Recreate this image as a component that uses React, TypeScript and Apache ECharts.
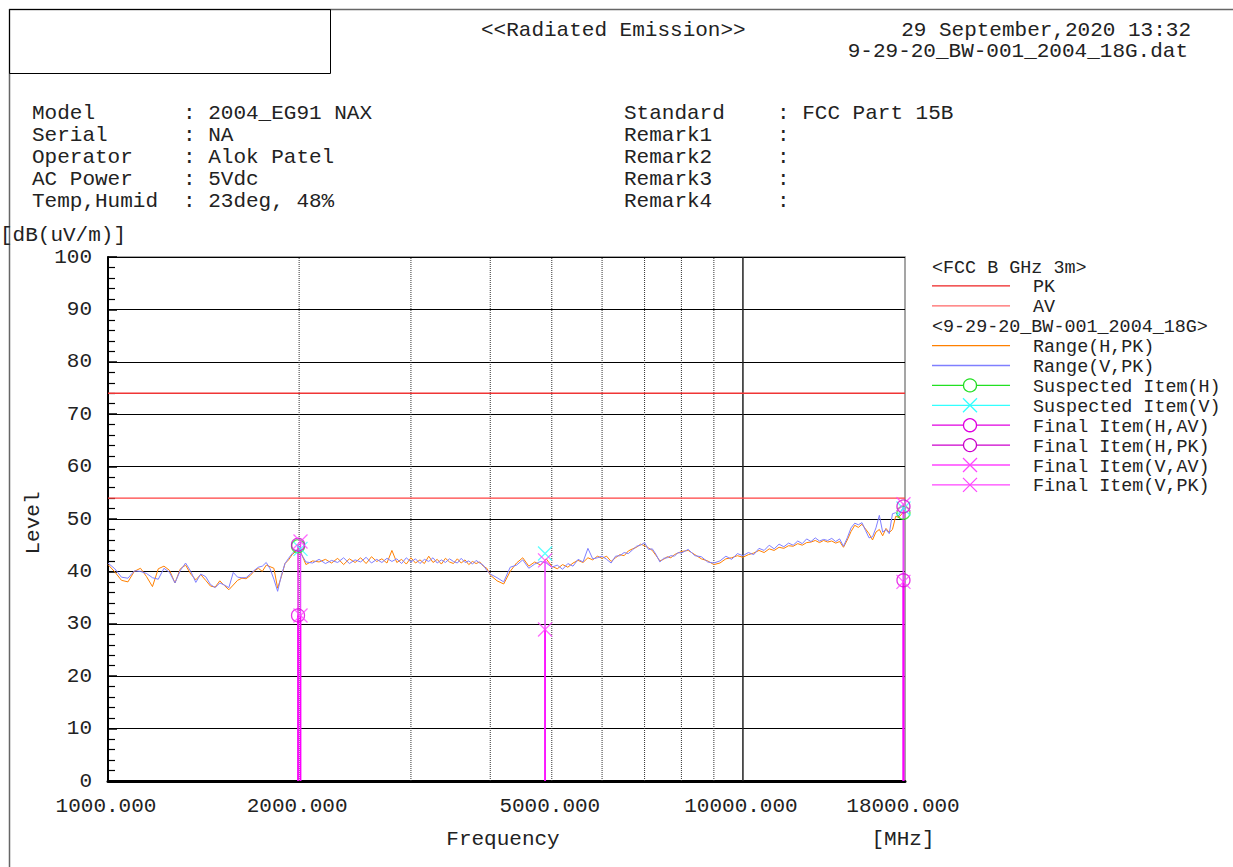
import React, { useEffect, useRef } from "react";
import * as echarts from "echarts";

const FONT = '"Liberation Mono", "Courier New", monospace';
const TEXT = "#222";

// ---- measurement data (MHz / dB(uV/m)) ----
const freqMHz = [
  1000, 1025, 1050, 1075, 1100, 1125, 1150, 1175, 1200, 1225, 1250, 1275, 1300, 1325, 1350, 1375, 1400, 1425, 1450, 1475,
  1500, 1525, 1550, 1575, 1600, 1625, 1650, 1675, 1700, 1725, 1750, 1775, 1800, 1825, 1850, 1875, 1900, 1925, 1950, 1975, 2000,
  2050, 2100, 2150, 2200, 2250, 2300, 2350, 2400, 2450, 2500, 2550, 2600, 2650, 2700, 2750, 2800, 2850, 2900, 2950, 3000,
  3050, 3100, 3150, 3200, 3250, 3300, 3350, 3400, 3450, 3500, 3550, 3600, 3650, 3700, 3750, 3800, 3850, 3900, 3950, 4000,
  4100, 4200, 4300, 4400, 4500, 4600, 4700, 4800, 4900, 5000, 5100, 5200, 5300, 5400, 5500, 5600, 5700, 5800, 5900, 6000,
  6100, 6200, 6300, 6400, 6500, 6600, 6700, 6800, 6900, 7000, 7100, 7200, 7300, 7400, 7500, 7600, 7700, 7800, 7900, 8000,
  8200, 8400, 8600, 8800, 9000, 9200, 9400, 9600, 9800, 10000, 10200, 10400, 10600, 10800, 11000, 11200, 11400, 11600, 11800, 12000,
  12200, 12400, 12600, 12800, 13000, 13200, 13400, 13600, 13800, 14000, 14200, 14400, 14600, 14800, 15000, 15200, 15400, 15600, 15800, 16000,
  16200, 16400, 16600, 16800, 17000, 17200, 17400, 17600, 17800, 18000,
];

const rangeH = [
  41.3, 39.9, 38.3, 38.0, 40.0, 40.6, 39.0, 37.1, 40.5, 41.0, 40.2, 37.8, 40.5, 41.2, 39.5, 38.4, 39.4, 38.3, 37.2, 37.0,
  38.2, 37.3, 36.5, 37.4, 38.3, 38.7, 38.6, 39.2, 40.1, 40.6, 40.0, 41.2, 40.9, 40.6, 36.8, 39.0, 41.5, 42.2, 43.2, 43.8, 44.4,
  41.3, 42.0, 41.8, 42.3, 41.6, 42.5, 41.3, 42.4, 41.7, 42.6, 41.5, 42.8, 41.9, 42.4, 41.6, 44.0, 41.7, 42.3, 41.4, 42.6,
  41.6, 42.2, 41.5, 42.9, 41.7, 42.3, 41.4, 42.5, 41.8, 41.5, 42.4, 41.6, 42.2, 41.3, 41.9, 41.5, 41.8, 41.0, 40.6, 39.3,
  38.2, 37.6, 40.0, 41.6, 42.6, 41.0, 41.8, 41.2, 42.4, 41.0, 40.5, 41.3, 40.8, 41.6, 42.1, 41.7, 42.6, 42.2, 42.9, 42.5,
  42.9, 41.9, 42.6, 43.2, 43.0, 43.9, 44.3, 44.6, 45.2, 44.9, 44.5, 44.0, 43.0, 42.0, 42.3, 42.8, 42.6, 43.2, 43.5, 43.8,
  44.0, 43.2, 42.4, 42.0, 41.3, 41.6, 42.4, 42.6, 43.0, 42.7, 43.2, 43.5, 44.0, 43.6, 44.3, 44.0, 44.6, 44.4, 44.9, 44.8,
  45.3, 45.0, 45.5, 45.6, 45.9, 45.5, 45.9, 45.6, 45.8, 45.4, 45.7, 44.6, 46.0, 47.6, 48.8, 48.4, 49.0, 48.1, 47.2, 46.0,
  47.5, 48.0, 46.8, 48.2, 47.4, 48.0, 50.5, 50.3, 51.0, 51.8,
];

const rangeV = [
  41.6, 40.5, 38.9, 38.7, 40.1, 40.0, 39.6, 38.8, 38.5, 40.6, 39.8, 37.8, 40.2, 41.6, 40.0, 37.9, 39.5, 39.0, 37.5, 36.9,
  37.8, 37.4, 36.9, 39.8, 38.9, 38.8, 38.8, 39.5, 40.2, 40.8, 41.0, 41.7, 40.5, 38.5, 36.2, 39.2, 41.5, 42.5, 43.4, 44.1, 44.0,
  41.8, 41.6, 42.3, 41.5, 42.1, 41.7, 42.6, 41.5, 42.2, 41.8, 42.7, 41.6, 42.3, 41.7, 42.5, 41.9, 42.4, 41.5, 42.6, 41.8,
  42.4, 41.5, 42.3, 41.9, 42.6, 41.6, 42.2, 41.7, 42.4, 41.9, 41.6, 42.5, 41.7, 42.0, 41.4, 42.1, 41.6, 41.2, 40.2, 39.5,
  38.8, 38.0, 40.8, 41.2, 42.2, 40.6, 41.4, 41.9, 41.6, 40.8, 41.2, 40.4, 41.5, 41.0, 42.3, 41.8, 44.4, 42.4, 42.6, 42.9,
  42.3, 41.6, 42.9, 43.0, 43.6, 43.4, 44.1, 44.8, 45.0, 45.5, 44.2, 44.3, 43.2, 41.8, 42.5, 42.6, 43.0, 42.9, 43.6, 43.5,
  44.2, 43.0, 42.8, 41.8, 41.6, 42.0, 42.9, 42.3, 43.4, 43.0, 43.6, 43.2, 44.4, 44.0, 45.0, 44.3, 45.2, 44.7, 45.4, 45.0,
  45.8, 45.3, 46.2, 45.7, 46.4, 45.8, 46.1, 45.9, 46.3, 45.7, 46.2, 44.8, 46.4, 48.3, 49.2, 48.9, 49.3, 47.8, 46.4, 46.6,
  48.3, 50.7, 47.5, 48.0, 47.2, 51.0, 51.2, 50.6, 51.8, 52.4,
];

// limit lines (FCC B GHz 3m)
const limitFreqs = [1000, 18000];
const limitPK = [74, 74];
const limitAV = [54, 54];

// detected items [MHz, dB(uV/m)]
const suspectedH = [[1992, 44.8], [17900, 51.2]];
const suspectedV = [[2010, 44.3], [4879, 43.4], [17900, 52.0]];
const finalHAV = [[1992, 31.6], [17900, 38.3]];
const finalHPK = [[1992, 45.1], [17900, 52.4]];
const finalVAV = [[2010, 31.6], [4879, 28.9], [17900, 38.0]];
const finalVPK = [[2010, 45.7], [4879, 42.1], [17900, 52.8]];

// axis tick labels / grid
const xTickLabels = [1000, 2000, 5000, 10000, 18000];
const xGridFreqs = [2000, 3000, 4000, 5000, 6000, 7000, 8000, 9000, 10000];

// header / info block
const titleText = "<<Radiated Emission>>";
const dateText = "29 September,2020 13:32";
const fileText = "9-29-20_BW-001_2004_18G.dat";
const infoLeft = [
  ["Model", ": 2004_EG91 NAX"],
  ["Serial", ": NA"],
  ["Operator", ": Alok Patel"],
  ["AC Power", ": 5Vdc"],
  ["Temp,Humid", ": 23deg, 48%"],
];
const infoRight = [
  ["Standard", ": FCC Part 15B"],
  ["Remark1", ":"],
  ["Remark2", ":"],
  ["Remark3", ":"],
  ["Remark4", ":"],
];

const legendItems = [
  { label: "<FCC B GHz 3m>", header: true },
  { label: "PK", color: "#ee2222" },
  { label: "AV", color: "#ff6666" },
  { label: "<9-29-20_BW-001_2004_18G>", header: true },
  { label: "Range(H,PK)", color: "#ff8000" },
  { label: "Range(V,PK)", color: "#7f7fff" },
  { label: "Suspected Item(H)", color: "#22e022", mark: "circle" },
  { label: "Suspected Item(V)", color: "#33ffff", mark: "cross" },
  { label: "Final Item(H,AV)", color: "#e000e0", mark: "circle" },
  { label: "Final Item(H,PK)", color: "#cc00cc", mark: "circle" },
  { label: "Final Item(V,AV)", color: "#ff44ff", mark: "cross" },
  { label: "Final Item(V,PK)", color: "#ff44ff", mark: "cross" },
];

const CROSS = "path://M0,0L10,10M10,0L0,10";

function txt(text: string, x: number, y: number, align = "left", extra: any = {}, size = 21) {
  return {
    type: "text",
    x,
    y,
    silent: true,
    ...extra,
    style: {
      text,
      font: `${size}px ${FONT}`,
      fill: TEXT,
      align,
      textAlign: align,
      verticalAlign: "middle",
      textVerticalAlign: "middle",
    },
  };
}

function buildGraphic() {
  const els: any[] = [];
  // page frame
  els.push({ type: "line", silent: true, shape: { x1: 9, y1: 9.5, x2: 1233, y2: 9.5 }, style: { stroke: "#666", lineWidth: 1.5 } });
  els.push({ type: "line", silent: true, shape: { x1: 9.5, y1: 9, x2: 9.5, y2: 867 }, style: { stroke: "#666", lineWidth: 1.5 } });
  els.push({ type: "rect", silent: true, shape: { x: 9.5, y: 9.5, width: 321, height: 64 }, style: { fill: "none", stroke: "#000", lineWidth: 1 } });
  // header
  els.push(txt(titleText, 481, 30));
  els.push(txt(dateText, 1191, 30, "right"));
  els.push(txt(fileText, 1188, 51, "right"));
  infoLeft.forEach((r, i) => {
    els.push(txt(r[0], 32, 113 + i * 22));
    els.push(txt(r[1], 183, 113 + i * 22));
  });
  infoRight.forEach((r, i) => {
    els.push(txt(r[0], 624, 113 + i * 22));
    els.push(txt(r[1], 777, 113 + i * 22));
  });
  // axis names
  els.push(txt("[dB(uV/m)]", 0, 235));
  els.push(txt("Level", 33, 523, "center", { rotation: Math.PI / 2 }));
  els.push(txt("Frequency", 503, 839, "center"));
  els.push(txt("[MHz]", 903, 839, "center"));
  // legend
  const LS = 18.4;
  legendItems.forEach((it: any, i) => {
    const y = 268 + i * 19.9;
    if (it.header) {
      els.push(txt(it.label, 932, y, "left", {}, LS));
      return;
    }
    const ly = y - 2;
    els.push({ type: "line", silent: true, shape: { x1: 932, y1: ly, x2: 1010, y2: ly }, style: { stroke: it.color, lineWidth: 1.3 } });
    if (it.mark === "circle") {
      els.push({ type: "circle", silent: true, shape: { cx: 970, cy: ly, r: 6.5 }, style: { fill: "#fff", stroke: it.color, lineWidth: 1.3 } });
    } else if (it.mark === "cross") {
      els.push({ type: "line", silent: true, shape: { x1: 963, y1: ly - 7, x2: 977, y2: ly + 7 }, style: { stroke: it.color, lineWidth: 1.3 } });
      els.push({ type: "line", silent: true, shape: { x1: 977, y1: ly - 7, x2: 963, y2: ly + 7 }, style: { stroke: it.color, lineWidth: 1.3 } });
    }
    els.push(txt(it.label, 1033, y, "left", {}, LS));
  });
  return els;
}

function markerSeries(data: number[][], color: string, kind: "circle" | "cross", z: number) {
  return {
    type: "scatter",
    data,
    symbol: kind === "circle" ? "circle" : CROSS,
    symbolSize: kind === "circle" ? 13 : 14,
    z,
    silent: true,
    itemStyle: { color: "rgba(0,0,0,0)", borderColor: color, borderWidth: 1.3 },
  };
}

function stemSeries(points: number[][], color: string, width: number, z: number) {
  return points.map((p) => ({
    type: "line",
    data: [[p[0], 0], [p[0], p[1]]],
    symbol: "none",
    silent: true,
    z,
    lineStyle: { color, width },
  }));
}

export default function App() {
  const ref = useRef<HTMLDivElement>(null);

  useEffect(() => {
    if (!ref.current) return;
    const chart = echarts.init(ref.current, null, { renderer: "svg" });

    const zip = (xs: number[], ys: number[]) => xs.map((x, i) => [x, ys[i]]).filter((p) => p[1] !== undefined);

    const option: any = {
      animation: false,
      backgroundColor: "#fff",
      textStyle: { fontFamily: FONT },
      grid: {
        left: 108,
        top: 257,
        width: 797,
        height: 524,
        show: true,
        borderColor: "#888",
        borderWidth: 1.5,
        backgroundColor: "transparent",
      },
      xAxis: {
        type: "log",
        logBase: 10,
        min: 1000,
        max: 18000,
        axisLine: { show: true, lineStyle: { color: "#000", width: 3 } },
        axisTick: { show: false },
        axisLabel: { show: false },
        splitLine: { show: false },
        minorTick: { show: false },
        minorSplitLine: { show: false },
      },
      yAxis: {
        type: "value",
        min: 0,
        max: 100,
        interval: 10,
        axisLine: { show: true, lineStyle: { color: "#000", width: 2 } },
        axisTick: { show: true, inside: true, length: 9, lineStyle: { color: "#000", width: 1.5 } },
        minorTick: { show: true, splitNumber: 5, length: 7, lineStyle: { color: "#000", width: 1.2 } },
        splitLine: { show: true, lineStyle: { color: "#000", width: 1 } },
        axisLabel: { fontFamily: FONT, fontSize: 21, color: TEXT, margin: 16 },
      },
      graphic: { elements: buildGraphic() },
      series: [
        {
          type: "custom",
          z: 1,
          silent: true,
          data: xGridFreqs.map((f) => [f, 0]),
          renderItem: (params: any, api: any) => {
            const f = api.value(0);
            const a = api.coord([f, 0]);
            const b = api.coord([f, 100]);
            const solid = f === 10000;
            return {
              type: "line",
              shape: { x1: a[0], y1: a[1], x2: b[0], y2: b[1] },
              style: { stroke: solid ? "#222" : "#333", lineWidth: solid ? 1.5 : 1, lineDash: solid ? null : [1, 1] },
            };
          },
        },
        {
          type: "custom",
          z: 1,
          silent: true,
          data: xTickLabels.map((f) => [f, 0]),
          renderItem: (params: any, api: any) => {
            const f = api.value(0);
            const p = api.coord([f, 0]);
            return {
              type: "text",
              x: p[0] - 2,
              y: p[1] + 25,
              style: {
                text: f.toFixed(3),
                font: `21px ${FONT}`,
                fill: TEXT,
                align: "center",
                textAlign: "center",
                verticalAlign: "middle",
                textVerticalAlign: "middle",
              },
            };
          },
        },
        {
          type: "line",
          data: zip(limitFreqs, limitPK),
          symbol: "none",
          silent: true,
          z: 3,
          lineStyle: { color: "#f03535", width: 1.3 },
        },
        {
          type: "line",
          data: zip(limitFreqs, limitAV),
          symbol: "none",
          silent: true,
          z: 3,
          lineStyle: { color: "#ff4040", width: 1.3 },
        },
        {
          type: "line",
          data: zip(freqMHz, rangeH),
          symbol: "none",
          silent: true,
          z: 4,
          lineStyle: { color: "#ff8000", width: 1 },
        },
        {
          type: "line",
          data: zip(freqMHz, rangeV),
          symbol: "none",
          silent: true,
          z: 5,
          lineStyle: { color: "#7f7fff", width: 1 },
        },
        ...stemSeries(finalHPK, "#ee22ee", 1.5, 6),
        ...stemSeries(finalVPK, "#ee44ff", 1.5, 6),
        ...stemSeries(finalHAV, "#ff00ff", 1.5, 7),
        ...stemSeries(finalVAV, "#ff00ff", 1.5, 7),
        markerSeries(suspectedH, "#22e022", "circle", 8),
        markerSeries(suspectedV, "#33ffff", "cross", 8),
        markerSeries(finalHAV, "#e000e0", "circle", 9),
        markerSeries(finalHPK, "#cc00cc", "circle", 9),
        markerSeries(finalVAV, "#ff44ff", "cross", 9),
        markerSeries(finalVPK, "#ff44ff", "cross", 9),
      ],
    };

    chart.setOption(option);
    return () => chart.dispose();
  }, []);

  return (
    <div
      ref={ref}
      style={{ position: "absolute", left: 0, top: 0, width: 1233, height: 867, background: "#fff" }}
    />
  );
}
